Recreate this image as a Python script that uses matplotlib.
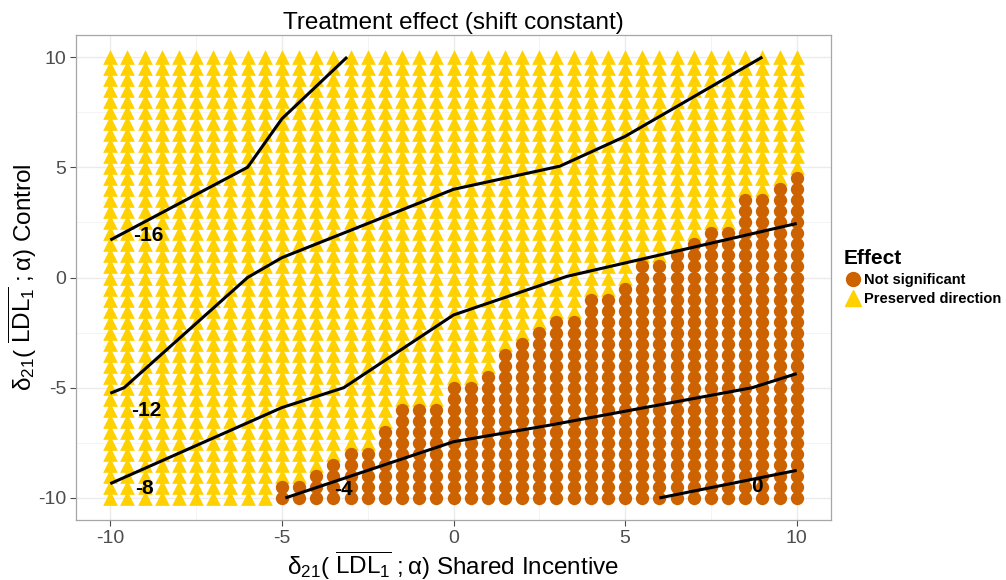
import numpy as np
import matplotlib
matplotlib.use("Agg")
import matplotlib.pyplot as plt
from matplotlib.lines import Line2D

plt.rcParams["font.family"] = ["Liberation Sans", "DejaVu Sans"]
plt.rcParams["mathtext.fontset"] = "custom"
plt.rcParams["mathtext.rm"] = "Liberation Sans"
plt.rcParams["mathtext.it"] = "Liberation Sans"
plt.rcParams["mathtext.default"] = "regular"

# grid of design values (shared incentive x control)
x_grid = np.linspace(-10, 10, 41)
y_grid = np.linspace(-10, 10, 41)

# highest control value that is still "Not significant" in each x column
# (None = whole column preserves direction)
ns_top = [None] * 10 + [
    -9.5, -9.5, -9, -8.5, -8, -8, -7, -6, -6, -6,
    -5, -5, -4.5, -3.5, -3, -2.5, -2, -2, -1, -1,
    -0.5, 0.5, 0.5, 1, 1.5, 2, 2, 3.5, 3.5, 4, 4.5,
]

# contour lines of the treatment effect
contours = {
    "-16": ([-10, -6, -5, -3.1], [1.7, 5.0, 7.2, 10.0]),
    "-12": ([-10, -9.6, -6, -5, 0, 3.1, 5, 9],
            [-5.25, -5.0, 0.0, 0.9, 4.0, 5.05, 6.4, 10.0]),
    "-8": ([-10, -5, -3.2, 0, 3.3, 10],
           [-9.35, -5.9, -5.0, -1.7, 0.05, 2.45]),
    "-4": ([-4.9, 0, 2.8, 8.7, 10], [-10, -7.45, -6.7, -5.0, -4.36]),
    "0": ([6, 10], [-10, -8.75]),
}
label_pos = {
    "-16": (-8.9, 1.9),
    "-12": (-8.95, -6.05),
    "-8": (-9.0, -9.55),
    "-4": (-3.22, -9.6),
    "0": (8.83, -9.5),
}

col_ns = "#CC6200"
col_pd = "#FFD100"

xs_ns, ys_ns, xs_pd, ys_pd = [], [], [], []
for xv, top in zip(x_grid, ns_top):
    for yv in y_grid:
        if top is not None and yv <= top + 1e-9:
            xs_ns.append(xv); ys_ns.append(yv)
        else:
            xs_pd.append(xv); ys_pd.append(yv)

fig = plt.figure(figsize=(10.06, 5.80), dpi=100)
ax = fig.add_axes([76 / 1006, 60 / 580, 755 / 1006, 485 / 580])

ax.set_xlim(-11, 11)
ax.set_ylim(-11, 11)
ax.set_facecolor("white")

for v in [-10, -5, 0, 5, 10]:
    ax.axvline(v, color="#EBEBEB", lw=1.0, zorder=0)
    ax.axhline(v, color="#EBEBEB", lw=1.0, zorder=0)
for v in [-7.5, -2.5, 2.5, 7.5]:
    ax.axvline(v, color="#F2F2F2", lw=0.6, zorder=0)
    ax.axhline(v, color="#F2F2F2", lw=0.6, zorder=0)

ax.scatter(xs_pd, ys_pd, marker="^", s=112, color=col_pd, linewidths=0, zorder=2)
ax.scatter(xs_ns, ys_ns, marker="o", s=92, color=col_ns, linewidths=0, zorder=3)

for lvl, (cx, cy) in contours.items():
    ax.plot(cx, cy, color="black", lw=2.2, zorder=4, solid_capstyle="butt")
    lx, ly = label_pos[lvl]
    ax.text(lx, ly, lvl, fontsize=15, fontweight="bold", color="black",
            ha="center", va="center", zorder=5)

for sp in ax.spines.values():
    sp.set_color("#A6A6A6")
    sp.set_linewidth(0.9)

ticks = [-10, -5, 0, 5, 10]
ax.set_xticks(ticks)
ax.set_yticks(ticks)
ax.set_xticklabels([str(t) for t in ticks])
ax.set_yticklabels([str(t) for t in ticks])
ax.tick_params(axis="both", labelsize=14, colors="#4D4D4D", length=4,
               width=0.8, pad=3)
for lab in ax.get_xticklabels() + ax.get_yticklabels():
    lab.set_color("#4D4D4D")

ax.set_title("Treatment effect (shift constant)", fontsize=17.5, pad=4)
ax.set_xlabel(r"$\delta_{21}(\ \overline{\mathrm{LDL}_1}\ ;\alpha)$ Shared Incentive",
              fontsize=17.5, labelpad=2)
ax.set_ylabel(r"$\delta_{21}(\ \overline{\mathrm{LDL}_1}\ ;\alpha)$ Control",
              fontsize=17.5, labelpad=-1)

handles = [
    Line2D([], [], marker="o", ls="", color=col_ns, markersize=10),
    Line2D([], [], marker="^", ls="", color=col_pd, markersize=11),
]
leg = fig.legend(handles, ["Not significant", "Preserved direction"],
                 title="Effect", loc="upper left",
                 bbox_to_anchor=(841 / 1006, 1 - 246 / 580),
                 frameon=False, prop={"weight": "bold", "size": 10.5},
                 handletextpad=0.2, handlelength=1.2, borderpad=0.2,
                 labelspacing=0.35, borderaxespad=0)
leg.get_title().set_fontweight("bold")
leg.get_title().set_fontsize(15)
leg._legend_box.align = "left"

fig.savefig("out.png", dpi=100)
